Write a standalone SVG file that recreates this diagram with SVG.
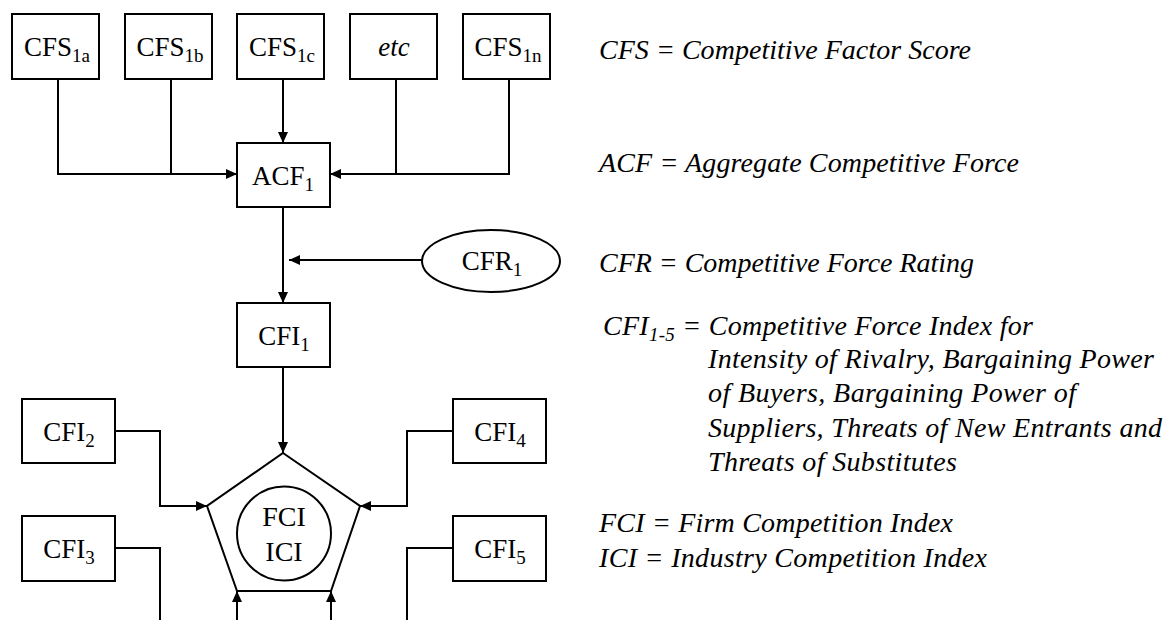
<svg xmlns="http://www.w3.org/2000/svg" width="1167" height="620" viewBox="0 0 1167 620">
<defs>
<marker id="ah" markerUnits="userSpaceOnUse" markerWidth="12" markerHeight="10" refX="11" refY="5" orient="auto">
<path d="M0,0 L11,5 L0,10 Z" fill="#000"/>
</marker>
<style>
.box{fill:#fff;stroke:#000;stroke-width:2}
.ln{fill:none;stroke:#000;stroke-width:2}
.ar{fill:none;stroke:#000;stroke-width:2;marker-end:url(#ah)}
.t{font-family:"Liberation Serif","Times New Roman",serif;font-size:27px;fill:#000}
.c{text-anchor:middle}
.i{font-style:italic}
.s{font-size:19px}
.lg{font-family:"Liberation Serif","Times New Roman",serif;font-size:28px;font-style:italic;fill:#000}
.ls{font-size:19px}
</style>
</defs>
<rect width="1167" height="620" fill="#fff"/>
<g id="connectors">
<polyline class="ln" points="58,79 58,174 171,174"/>
<polyline class="ar" points="171,79 171,174 237,174"/>
<polyline class="ar" points="283,79 283,143"/>
<polyline class="ln" points="509,79 509,174 396,174"/>
<polyline class="ar" points="396,79 396,174 330,174"/>
<polyline class="ar" points="283,207 283,303"/>
<polyline class="ar" points="422,260 289,260"/>
<polyline class="ar" points="283,367 283,453"/>
<polyline class="ar" points="115,431 160,431 160,506 207,506"/>
<polyline class="ar" points="453,431 407,431 407,506 360,506"/>
<polyline class="ln" points="115,548 160,548 160,620"/>
<polyline class="ln" points="453,548 407,548 407,620"/>
<polyline class="ar" points="237,620 237,591"/>
<polyline class="ar" points="331,620 331,591"/>
</g>
<g id="cfs1a"><rect class="box" x="12" y="14" width="87" height="65"/><text class="t c" x="57" y="56">CFS<tspan class="s" dy="6">1a</tspan></text></g>
<g id="cfs1b"><rect class="box" x="125" y="14" width="87" height="65"/><text class="t c" x="170" y="56">CFS<tspan class="s" dy="6">1b</tspan></text></g>
<g id="cfs1c"><rect class="box" x="237" y="14" width="87" height="65"/><text class="t c" x="282" y="56">CFS<tspan class="s" dy="6">1c</tspan></text></g>
<g id="etc"><rect class="box" x="350" y="14" width="87" height="65"/><text class="t c i" x="394" y="56">etc</text></g>
<g id="cfs1n"><rect class="box" x="463" y="14" width="87" height="65"/><text class="t c" x="508" y="56">CFS<tspan class="s" dy="6">1n</tspan></text></g>
<g id="acf1"><rect class="box" x="237" y="143" width="93" height="64"/><text class="t c" x="283" y="185">ACF<tspan class="s" dy="6">1</tspan></text></g>
<g id="cfr1"><ellipse class="box" cx="491" cy="261" rx="69" ry="31"/><text class="t c" x="492" y="270">CFR<tspan class="s" dy="6">1</tspan></text></g>
<g id="cfi1"><rect class="box" x="237" y="303" width="93" height="64"/><text class="t c" x="284" y="345">CFI<tspan class="s" dy="6">1</tspan></text></g>
<g id="cfi2"><rect class="box" x="22" y="399" width="93" height="64"/><text class="t c" x="69" y="441">CFI<tspan class="s" dy="6">2</tspan></text></g>
<g id="cfi3"><rect class="box" x="22" y="516" width="93" height="65"/><text class="t c" x="69" y="558">CFI<tspan class="s" dy="6">3</tspan></text></g>
<g id="cfi4"><rect class="box" x="453" y="399" width="93" height="64"/><text class="t c" x="500" y="441">CFI<tspan class="s" dy="6">4</tspan></text></g>
<g id="cfi5"><rect class="box" x="453" y="516" width="93" height="65"/><text class="t c" x="500" y="558">CFI<tspan class="s" dy="6">5</tspan></text></g>
<g id="core">
<polygon class="box" points="283,453 360,506 331,591 237,591 207,506"/>
<ellipse class="box" cx="284" cy="533.5" rx="47" ry="47"/>
<text class="t c" x="284" y="526" style="font-size:28px">FCI</text>
<text class="t c" x="284" y="561" style="font-size:28px">ICI</text>
</g>
<g id="legend">
<text class="lg" x="599" y="59" textLength="372" lengthAdjust="spacing">CFS = Competitive Factor Score</text>
<text class="lg" x="599" y="172" textLength="420" lengthAdjust="spacing">ACF = Aggregate Competitive Force</text>
<text class="lg" x="599" y="272" textLength="375" lengthAdjust="spacing">CFR = Competitive Force Rating</text>
<text class="lg" x="603" y="335" textLength="430" lengthAdjust="spacing">CFI<tspan class="ls" dy="6">1-5</tspan><tspan dy="-6"> = Competitive Force Index for</tspan></text>
<text class="lg" x="708" y="368" textLength="446" lengthAdjust="spacing">Intensity of Rivalry, Bargaining Power</text>
<text class="lg" x="708" y="402" textLength="368" lengthAdjust="spacing">of Buyers, Bargaining Power of</text>
<text class="lg" x="708" y="437" textLength="454" lengthAdjust="spacing">Suppliers, Threats of New Entrants and</text>
<text class="lg" x="708" y="471" textLength="249" lengthAdjust="spacing">Threats of Substitutes</text>
<text class="lg" x="599" y="532" textLength="354" lengthAdjust="spacing">FCI = Firm Competition Index</text>
<text class="lg" x="599" y="567" textLength="388" lengthAdjust="spacing">ICI = Industry Competition Index</text>
</g>
</svg>
